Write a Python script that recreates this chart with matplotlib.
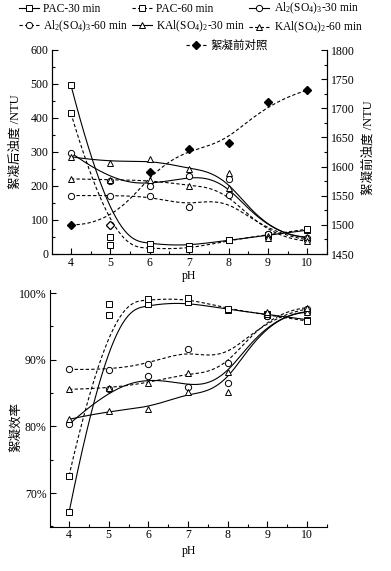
import numpy as np
import matplotlib
matplotlib.use("Agg")
import matplotlib.pyplot as plt
from matplotlib.lines import Line2D
from matplotlib.ticker import MultipleLocator, PercentFormatter

plt.rcParams['font.family'] = ['Liberation Serif', 'Noto Sans CJK SC', 'DejaVu Sans']
plt.rcParams['mathtext.fontset'] = 'custom'
plt.rcParams['mathtext.rm'] = 'Liberation Serif'
plt.rcParams['mathtext.it'] = 'Liberation Serif:italic'
plt.rcParams['font.size'] = 8.5

# data
ph = [4, 5, 6, 7, 8, 9, 10]

# 絮凝后浊度 /NTU
pac30_after = [497, 51, 28, 24, 41, 55, 70]
pac60_after = [414, 26, 15, 15, 40, 57, 73]
al30_after = [298, 215, 200, 230, 220, 58, 48]
al60_after = [172, 172, 172, 139, 174, 60, 42]
kal30_after = [286, 269, 279, 250, 237, 54, 50]
kal60_after = [221, 218, 218, 201, 193, 48, 38]
# 絮凝前浊度 /NTU
control_before = [1500, 1500, 1590, 1630, 1640, 1711, 1731]

# 絮凝效率 (%)
pac30_eff = [67.1, 96.7, 98.35, 98.6, 97.5, 96.8, 96.0]
pac60_eff = [72.6, 98.35, 99.05, 99.2, 97.6, 96.7, 95.8]
al30_eff = [80.3, 85.6, 87.6, 85.95, 86.55, 96.6, 97.2]
al60_eff = [88.55, 88.45, 89.3, 91.6, 89.45, 96.5, 97.6]
kal30_eff = [81.05, 82.35, 82.6, 85.1, 85.2, 96.8, 97.1]
kal60_eff = [85.55, 85.7, 86.5, 88.0, 88.1, 97.2, 97.8]

labels = ['PAC-30 min', 'PAC-60 min',
          r'Al$_2$(SO$_4$)$_3$-30 min', r'Al$_2$(SO$_4$)$_3$-60 min',
          r'KAl(SO$_4$)$_2$-30 min', r'KAl(SO$_4$)$_2$-60 min']
ctrl_label = '絮凝前对照'


def bspline(x, y, k=3, n=300):
    # clamped cubic B-spline with the data points as control points
    P = np.column_stack([x, y]).astype(float)
    m = len(P)
    knots = np.concatenate([np.zeros(k), np.arange(m - k + 1), np.full(k, m - k)]).astype(float)
    t = np.linspace(0, m - k, n)
    B = np.zeros((n, len(knots) - 1))
    for i in range(len(knots) - 1):
        B[:, i] = (knots[i] <= t) & (t < knots[i + 1])
    B[t == knots[-1], m - 1] = 1
    for d in range(1, k + 1):
        Bn = np.zeros((n, len(knots) - 1 - d))
        for i in range(len(knots) - 1 - d):
            d1 = knots[i + d] - knots[i]
            d2 = knots[i + d + 1] - knots[i + 1]
            a = (t - knots[i]) / d1 * B[:, i] if d1 > 0 else 0
            b = (knots[i + d + 1] - t) / d2 * B[:, i + 1] if d2 > 0 else 0
            Bn[:, i] = a + b
        B = Bn
    C = B @ P
    return C[:, 0], C[:, 1]


solid = '-'
dashed = (0, (3, 2))
lw = 0.8
styles = [(solid, 's', 4), (dashed, 's', 4), (solid, 'o', 4.5),
          (dashed, 'o', 4.5), (solid, '^', 5), (dashed, '^', 5)]


def draw(ax, y, ls, mk, ms):
    xs, ys = bspline(ph, y)
    ax.plot(xs, ys, color='black', lw=lw, linestyle=ls, zorder=2)
    ax.plot(ph, y, linestyle='none', marker=mk, ms=ms, mfc='white',
            mec='black', mew=0.7, zorder=3)


fig = plt.figure(figsize=(3.91, 5.71), dpi=100)
ax1 = fig.add_axes([52 / 391, 1 - 254 / 571, 275 / 391, 204 / 571])
ax2 = ax1.twinx()
ax3 = fig.add_axes([50 / 391, 1 - 527 / 571, 277 / 391, 237 / 571])

after = [pac30_after, pac60_after, al30_after, al60_after, kal30_after, kal60_after]
eff = [pac30_eff, pac60_eff, al30_eff, al60_eff, kal30_eff, kal60_eff]
for y, (ls, mk, ms) in zip(after, styles):
    draw(ax1, y, ls, mk, ms)
for y, (ls, mk, ms) in zip(eff, styles):
    draw(ax3, y, ls, mk, ms)

# control on the right axis
xs, ys = bspline(ph, control_before)
ax2.plot(xs, ys, color='black', lw=lw, linestyle=dashed)
ax2.plot(ph, control_before, linestyle='none', marker='D', ms=4.5,
         mfc='black', mec='black')
ax2.plot(ph[1], control_before[1], linestyle='none', marker='D', ms=4.5,
         mfc='white', mec='black', mew=0.7)

# axes setup
for ax in (ax1, ax3):
    ax.set_xlim(3.52, 10.5)
    ax.xaxis.set_major_locator(MultipleLocator(1))
    ax.xaxis.set_minor_locator(MultipleLocator(0.5))
    ax.spines['top'].set_visible(False)
    ax.tick_params(which='both', direction='in', top=False, pad=2.5)
    ax.tick_params(axis='x', pad=1.8)
    ax.tick_params(which='major', length=4, width=0.8)
    ax.tick_params(which='minor', length=2.5, width=0.8)
    ax.set_xlabel('pH')
ax3.spines['right'].set_visible(False)
ax2.spines['top'].set_visible(False)

ax1.set_ylim(0, 600)
ax1.yaxis.set_major_locator(MultipleLocator(100))
ax1.yaxis.set_minor_locator(MultipleLocator(50))
ax1.tick_params(which='both', right=False)
ax2.set_ylim(1450, 1800)
ax2.yaxis.set_major_locator(MultipleLocator(50))
ax2.yaxis.set_minor_locator(MultipleLocator(25))
ax2.tick_params(which='both', direction='in', pad=2.5)
ax2.tick_params(which='major', length=4, width=0.8)
ax2.tick_params(which='minor', length=2.5, width=0.8)

ax3.set_ylim(64.9, 100.45)
ax3.yaxis.set_major_locator(MultipleLocator(10))
ax3.yaxis.set_minor_locator(MultipleLocator(5))
ax3.yaxis.set_major_formatter(PercentFormatter(decimals=0))

ax1.set_ylabel('絮凝后浊度 /NTU', fontsize=9)
ax1.yaxis.set_label_coords(-0.11, 0.55)
ax2.set_ylabel('絮凝前浊度 /NTU', fontsize=9)
ax2.yaxis.set_label_coords(1.13, 0.52)
ax3.set_ylabel('絮凝效率', fontsize=9)
ax3.yaxis.set_label_coords(-0.10, 0.42)
ax1.xaxis.set_label_coords(0.498, -0.078)
ax3.xaxis.set_label_coords(0.50, -0.078)

# legend
proxies = [Line2D([], [], color='black', lw=lw, linestyle=ls, marker=mk, ms=ms,
                  mfc='white', mec='black', mew=0.7)
           for ls, mk, ms in styles]
order = [0, 3, 1, 4, 2, 5]
fig.legend([proxies[i] for i in order], [labels[i] for i in order],
           ncol=3, loc='upper left', bbox_to_anchor=(19 / 391, 1 - 1 / 571),
           frameon=False, borderpad=0, borderaxespad=0, handlelength=1.7,
           handletextpad=0.4, columnspacing=0.35, labelspacing=0.3,
           fontsize=8.3)
ctrl_proxy = Line2D([], [], color='black', lw=lw, linestyle=dashed, marker='D',
                    ms=4.5, mfc='black', mec='black')
fig.legend([ctrl_proxy], [ctrl_label], loc='upper left',
           bbox_to_anchor=(186 / 391, 1 - 40 / 571), frameon=False,
           borderpad=0, borderaxespad=0, handlelength=1.7, handletextpad=0.4,
           fontsize=8.3)

fig.savefig('out.png', dpi=100)
